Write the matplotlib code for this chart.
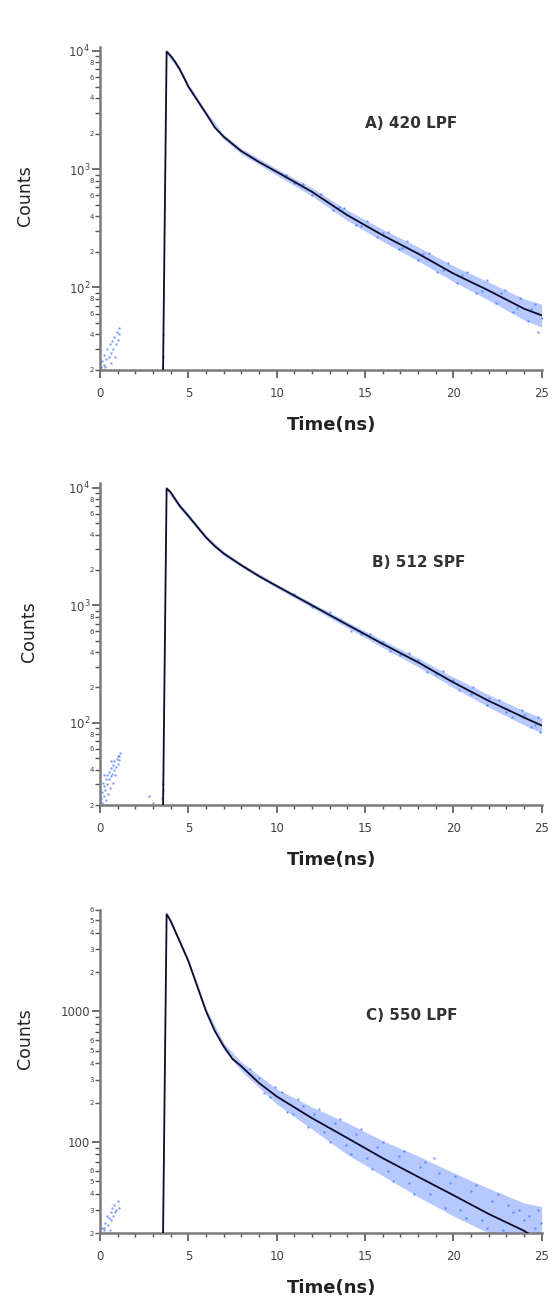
import matplotlib
matplotlib.use("Agg")
import matplotlib.pyplot as plt
from matplotlib.ticker import FixedLocator, FixedFormatter

plt.rcParams['font.family'] = ['DejaVu Sans']
plt.rcParams['mathtext.default'] = 'regular'

# ---------------- Panel A : 420 LPF ----------------
a_fit_t = [3.57, 3.77, 4.0, 4.25, 4.5, 4.75, 5.0, 5.5, 6.0, 6.5, 7.0, 8.0, 9.0, 10.0,
           12.0, 14.0, 16.0, 18.0, 20.0, 22.0, 24.0, 25.0]
a_fit_counts = [20, 9870, 9100, 8100, 7050, 5950, 5000, 3840, 2960, 2250, 1880, 1420, 1150,
                950, 643, 408, 276, 193, 131, 94, 66, 58]
a_band_t = [3.8, 4.5, 5, 6, 7, 8, 10, 12, 14, 16, 18, 20, 22, 24, 25]
a_band_hi = [10300, 7400, 5250, 3100, 1970, 1500, 1010, 695, 450, 310, 220, 152, 111, 80, 72]
a_band_lo = [9300, 6700, 4750, 2820, 1790, 1345, 890, 592, 368, 245, 168, 112, 78, 53, 46]
a_pts_t = [0.05, 0.1, 0.2, 0.25, 0.3, 0.35, 0.4, 0.5, 0.55, 0.6, 0.65, 0.7, 0.75,
           0.8, 0.85, 0.9, 0.95, 1.0, 1.05, 1.1, 3.55, 3.55,
           12.5, 13.2, 13.8, 14.5, 15.1, 15.7, 16.3, 16.9, 17.4, 18.0, 18.6, 19.1,
           19.7, 20.2, 20.8, 21.3, 21.9, 22.4, 22.9, 23.4, 23.8, 24.2, 24.6, 24.8,
           10.5, 11.0, 11.5, 12.0, 13.5, 14.8, 16.0, 17.1, 18.3, 19.4, 20.5, 21.6,
           22.7, 23.6, 24.4, 25.0]
a_pts_counts = [21, 24, 22, 27, 21, 25, 30, 26, 33, 28, 23, 35, 30,
                38, 26, 33, 42, 36, 45, 40, 40, 26,
                620, 450, 470, 340, 365, 265, 295, 210, 245, 170, 195, 135,
                160, 108, 135, 90, 115, 74, 95, 62, 82, 52, 72, 42,
                900, 760, 745, 610, 480, 330, 290, 215, 192, 140, 128, 94,
                89, 67, 66, 55]

# ---------------- Panel B : 512 SPF ----------------
b_fit_t = [3.57, 3.77, 4.0, 4.5, 5.0, 5.5, 6.0, 6.5, 7.0, 8.0, 9.0, 10.0,
           12.0, 14.0, 16.0, 18.0, 20.0, 22.0, 24.0, 25.0]
b_fit_counts = [20, 9900, 9180, 7060, 5770, 4670, 3790, 3190, 2765, 2197, 1770,
                1462, 1000, 684, 470, 328, 221, 154, 111, 95]
b_band_t = [3.8, 4.5, 5, 6, 7, 8, 10, 12, 14, 16, 18, 20, 22, 24, 25]
b_band_hi = [10250, 7400, 6050, 3950, 2880, 2280, 1520, 1050, 725, 505, 357, 245, 174, 127, 110]
b_band_lo = [9350, 6730, 5500, 3640, 2650, 2115, 1405, 955, 645, 438, 300, 200, 136, 96, 82]
b_pts_t = [0.02, 0.05, 0.1, 0.12, 0.15, 0.2, 0.22, 0.25, 0.3, 0.32, 0.35, 0.4, 0.42,
           0.45, 0.5, 0.52, 0.55, 0.6, 0.62, 0.65, 0.7, 0.72, 0.75, 0.8, 0.82,
           0.85, 0.9, 0.95, 1.0, 1.0, 1.05, 1.1, 1.15, 2.75, 3.0, 3.5, 3.55, 3.55,
           13.0, 14.2, 15.3, 16.4, 17.5, 18.5, 19.4, 20.3, 21.1, 21.9, 22.6, 23.3,
           23.9, 24.4, 24.8, 24.9,
           11.0, 12.0, 13.6, 14.8, 16.0, 17.0, 18.0, 19.0, 20.0, 21.0, 22.0, 23.0,
           24.0, 24.6]
b_pts_counts = [20, 23, 21, 26, 31, 24, 29, 36, 27, 33, 22, 30, 36,
                25, 33, 38, 28, 35, 41, 47, 37, 44, 31, 40, 47,
                36, 42, 49, 45, 52, 52, 48, 55, 24, 21, 23, 27, 30,
                880, 610, 575, 405, 390, 272, 275, 190, 200, 142, 157, 112,
                128, 92, 112, 84,
                1250, 960, 750, 570, 490, 375, 340, 262, 232, 176, 162, 124,
                117, 96]

# ---------------- Panel C : 550 LPF ----------------
c_fit_t = [3.57, 3.77, 4.0, 4.5, 5.0, 5.5, 6.0, 6.5, 7.0, 7.5, 8.0, 9.0, 10.0,
           12.0, 14.0, 16.0, 18.0, 20.0, 22.0, 24.0, 24.2]
c_fit_counts = [20, 5570, 4955, 3475, 2438, 1566, 1006, 706, 541, 432, 380, 283,
                223, 152, 107, 75, 54, 39, 28, 20.8, 20]
c_band_t = [3.8, 4.5, 5, 6, 7, 8, 10, 12, 14, 16, 18, 20, 22, 24, 25]
c_band_hi = [5750, 3630, 2550, 1060, 575, 410, 255, 185, 140, 102, 78, 58, 44, 34, 32]
c_band_lo = [5270, 3330, 2330, 955, 510, 350, 195, 125, 80, 55, 38, 27, 20, 17, 17]
c_pts_t = [0.05, 0.1, 0.2, 0.25, 0.3, 0.35, 0.4, 0.45, 0.5, 0.55, 0.6, 0.65, 0.7,
           0.75, 0.8, 0.85, 0.9, 1.0, 1.05,
           8.5, 9.3, 9.9, 10.6, 11.2, 11.8, 12.4, 13.0, 13.6, 14.2, 14.8, 15.4,
           16.0, 16.6, 17.2, 17.8, 18.4, 18.9, 19.5, 20.1, 20.7, 21.3, 21.9, 22.5,
           23.1, 23.7, 24.3, 24.8, 24.95,
           9.0, 9.6, 10.3, 10.9, 11.5, 12.1, 12.7, 13.3, 13.9, 14.5, 15.1, 15.7,
           16.3, 16.9, 17.5, 18.1, 18.7, 19.2, 19.8, 20.4, 21.0, 21.6, 22.2, 22.8,
           23.4, 24.0, 24.6]
c_pts_counts = [20, 22, 21, 22, 24, 20, 27, 23, 26, 21, 29, 25, 31,
                27, 33, 29, 30, 35, 31,
                360, 235, 265, 170, 215, 130, 180, 100, 150, 80, 125, 62,
                100, 50, 85, 40, 70, 75, 31, 55, 26, 47, 22, 40,
                33, 30, 27, 30, 24,
                310, 220, 240, 165, 190, 165, 120, 140, 95, 115, 75, 92,
                60, 78, 48, 64, 40, 58, 48, 30, 42, 25, 35, 21,
                29, 25, 22]

# tick labels
ab_major = [100, 1000, 10000]
ab_major_lbl = ['$10^2$', '$10^3$', '$10^4$']
c_major = [100, 1000]
c_major_lbl = ['100', '1000']

panel_titles = ['A) 420 LPF', 'B) 512 SPF', 'C) 550 LPF']
ylims = [(20, 10800), (20, 11000), (20, 6000)]

W, H = 556, 1304
fig = plt.figure(figsize=(W / 100, H / 100), dpi=100)

# axes rectangles in pixels: left, right, top, bottom
rects = [(100, 541.7, 47, 370), (100, 541.7, 483, 805), (100, 541.7, 910, 1233)]
title_pos = [(411, 123), (419, 562), (412, 1015)]
counts_pos = [(34, 196), (38, 632), (34, 1039)]

data = [
    (a_fit_t, a_fit_counts, a_band_t, a_band_hi, a_band_lo, a_pts_t, a_pts_counts),
    (b_fit_t, b_fit_counts, b_band_t, b_band_hi, b_band_lo, b_pts_t, b_pts_counts),
    (c_fit_t, c_fit_counts, c_band_t, c_band_hi, c_band_lo, c_pts_t, c_pts_counts),
]

spine_col = '#7a7a7a'
lbl_col = '#444444'

for i, (ft, fc, bt, bh, bl, pt, pc) in enumerate(data):
    l, r, t, b = rects[i]
    ax = fig.add_axes([l / W, 1 - b / H, (r - l) / W, (b - t) / H])
    ax.set_yscale('log')
    ax.set_xlim(0, 25)
    ax.set_ylim(*ylims[i])

    ax.fill_between(bt, bl, bh, color='#6f95ff', alpha=0.5, lw=0, zorder=1)
    ax.plot(pt, pc, ls='none', marker='s', ms=2.0, mec='none',
            mfc='#3366ff', alpha=0.7, zorder=2)
    ax.plot(ft, fc, color='#0d0d2b', lw=1.3, zorder=3)

    for s in ['top', 'right']:
        ax.spines[s].set_visible(False)
    for s in ['left', 'bottom']:
        ax.spines[s].set_color(spine_col)
        ax.spines[s].set_linewidth(1.8)

    # x ticks
    ax.xaxis.set_major_locator(FixedLocator([0, 5, 10, 15, 20, 25]))
    ax.xaxis.set_minor_locator(FixedLocator([v for v in range(26) if v % 5]))
    ax.tick_params(axis='x', which='major', length=6, width=1.2, color='#555555',
                   labelsize=8.5, labelcolor=lbl_col, pad=6)
    ax.tick_params(axis='x', which='minor', length=3, width=1.0, color='#555555')

    # y ticks
    if i < 2:
        maj, majl = ab_major, ab_major_lbl
        minors, minl = [], []
        for dec in [10, 100, 1000]:
            for m in range(2, 10):
                v = m * dec
                if v < 20 or v > ylims[i][1]:
                    continue
                minors.append(v)
                minl.append(str(m) if m in (2, 4, 6, 8) else '')
    else:
        maj, majl = c_major, c_major_lbl
        minors, minl = [], []
        for dec in [10, 100, 1000]:
            for m in range(2, 10):
                v = m * dec
                if v < 20 or v > 6000:
                    continue
                minors.append(v)
                minl.append(str(m) if m <= 6 else '')
    ax.yaxis.set_major_locator(FixedLocator(maj))
    ax.yaxis.set_major_formatter(FixedFormatter(majl))
    ax.yaxis.set_minor_locator(FixedLocator(minors))
    ax.yaxis.set_minor_formatter(FixedFormatter(minl))
    ax.tick_params(axis='y', which='major', length=6, width=1.2, color='#555555',
                   labelsize=8.5, labelcolor=lbl_col, pad=1)
    ax.tick_params(axis='y', which='minor', length=3.5, width=1.0, color='#555555',
                   labelsize=5, labelcolor=lbl_col, pad=1)

    ax.set_xlabel('Time(ns)', fontsize=13, fontweight='bold', color='#222222')
    ax.xaxis.set_label_coords((332 - l) / (r - l), -(46) / (b - t))
    cx, cy = counts_pos[i]
    ax.set_ylabel('Counts', fontsize=12.5, color='#222222')
    ax.yaxis.set_label_coords((cx - l) / (r - l), (b - cy) / (b - t))

    tx, ty = title_pos[i]
    fig.text(tx / W, 1 - ty / H, panel_titles[i], fontsize=11, fontweight='bold',
             color='#333333', ha='center', va='center')

fig.savefig('out.png', dpi=100, facecolor='white')
